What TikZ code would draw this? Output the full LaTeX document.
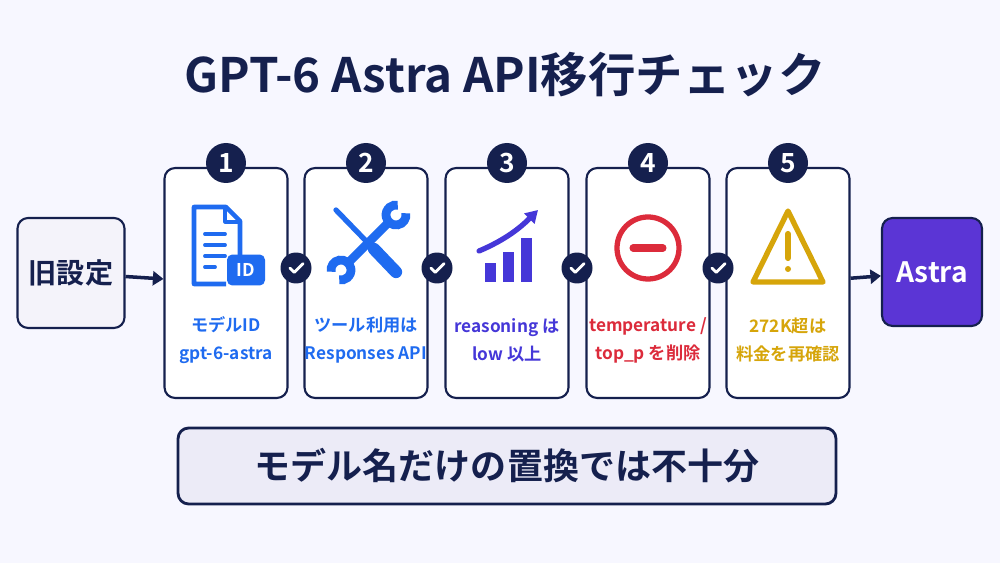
\documentclass[tikz,border=0pt]{standalone}
\usepackage{fontspec}
\setmainfont{Noto Sans CJK JP}[BoldFont={Noto Sans CJK JP Bold}]
\usetikzlibrary{positioning,arrows.meta}
\definecolor{navy}{HTML}{15204E}
\definecolor{idblue}{HTML}{1F6BF0}
\definecolor{indigo}{HTML}{4537D8}
\definecolor{alert}{HTML}{DC2B3B}
\definecolor{gold}{HTML}{D6A50A}
\definecolor{astra}{HTML}{5B35D5}
\definecolor{lav}{HTML}{ECEBF7}
\tikzset{
  card/.style={draw=navy, line width=1.2pt, rounded corners=6pt, fill=white, minimum width=2.46cm, minimum height=4.6cm},
  badge/.style={circle, fill=navy, text=white, minimum size=0.8cm, inner sep=0pt, font=\bfseries\fontsize{15}{15}\selectfont},
  check/.style={circle, fill=navy, minimum size=0.62cm, inner sep=0pt},
  label/.style={align=center, font=\bfseries\fontsize{9.8}{16}\selectfont},
  flow/.style={-{Triangle[length=6pt,width=8pt]}, line width=2pt, navy}
}
\begin{document}
\begin{tikzpicture}[x=0.02cm, y=-0.02cm]
  \fill[white!97!blue] (0,0) rectangle (1000,563);
  \useasboundingbox (0,0) rectangle (1000,563);

  % Title
  \node[navy, font=\bfseries\fontsize{27}{27}\selectfont] (title) at (505,75) {GPT-6 Astra API移行チェック};

  % Start and goal
  \node[draw=navy, line width=1.2pt, rounded corners=6pt, fill=lav!60, minimum width=2.14cm, minimum height=2.2cm,
        text=navy, font=\bfseries\fontsize{16}{16}\selectfont] (old) at (71,273) {旧設定};
  \node[draw=navy, line width=1.2pt, rounded corners=6pt, fill=astra, minimum width=2cm, minimum height=2.16cm,
        text=white, font=\bfseries\fontsize{16}{16}\selectfont] (goal) at (932,272) {Astra};

  % Cards
  \foreach \i/\x in {1/226,2/366,3/507,4/648,5/788}{
    \node[card] (card\i) at (\x,283) {};
    \node[badge] (badge\i) at (\x,163) {\i};
  }
  \foreach \i/\x in {1/296,2/437,3/577,4/718}{
    \node[check] (check\i) at (\x,268) {};
    \draw[white, line width=1.6pt, line cap=round, line join=round]
      ([xshift=-3.5pt]check\i.center) -- ++(2.5pt,-2.5pt) -- ++(5pt,5pt);
  }
  \draw[flow] (old) -- (card1);
  \draw[flow] (card5) -- (goal);

  % Card 1: document with ID
  \draw[idblue, line width=2.6pt, line join=round] (226,284) -- (194,284) -- (194,207) -- (226,207) -- (240,221) -- (240,255);
  \draw[idblue, line width=1.8pt, line join=round] (225,207) -- (225,222) -- (240,222);
  \foreach \yy in {234,245,256} \draw[idblue, line width=2.2pt, line cap=round] (205,\yy) -- (225,\yy);
  \draw[idblue, line width=2.2pt, line cap=round] (205,267) -- (215,267);
  \node[fill=idblue, rounded corners=3pt, text=white, minimum width=0.76cm, minimum height=0.62cm, inner sep=0pt,
        font=\bfseries\fontsize{10}{10}\selectfont] (idtag) at (246,270) {ID};
  \node[label, idblue] (text1) at (226,340) {モデルID\\gpt-6-astra};

  % Card 2: tools
  \draw[idblue, line width=3pt, line cap=round] (336,210) -- (368,243);
  \draw[idblue, line width=7pt, line cap=round] (374,249) -- (396,272);
  \draw[idblue, line width=5pt] (349,262) -- (388,223);
  \draw[idblue, line width=5pt] ([shift={(-10:10)}]396,215) arc (-10:280:10);
  \draw[idblue, line width=5pt] ([shift={(170:10)}]341,270) arc (170:460:10);
  \node[label, idblue] (text2) at (366,340) {ツール利用は\\Responses API};

  % Card 3: chart
  \fill[indigo] (485,263) rectangle (496,282);
  \fill[indigo] (503,252) rectangle (514,282);
  \fill[indigo] (521,238) rectangle (532,282);
  \draw[indigo, line width=3pt, line cap=round, -{Triangle[length=7pt,width=8pt]}] (479,251) .. controls (505,240) and (520,228) .. (538,210);
  \node[label, indigo] (text3) at (507,340) {reasoning は\\low 以上};

  % Card 4: remove
  \draw[alert, line width=3pt] (648,248) circle (31);
  \draw[alert, line width=4pt, line cap=round] (633,248) -- (663,248);
  \node[label, alert] (text4) at (648,340) {temperature /\\top\_p を削除};

  % Card 5: warning
  \draw[gold, line width=3pt, line join=round] (788,211) -- (823,282) -- (753,282) -- cycle;
  \draw[gold, line width=3.5pt, line cap=round] (788,234) -- (788,258);
  \fill[gold] (788,269) circle (3);
  \node[label, gold] (text5) at (788,340) {272K超は\\料金を再確認};

  % Note
  \node[draw=navy, line width=1.6pt, rounded corners=6pt, fill=lav, minimum width=13.16cm, minimum height=1.52cm,
        text=navy, font=\bfseries\fontsize{20.5}{20.5}\selectfont] (note) at (507,466) {モデル名だけの置換では不十分};
\end{tikzpicture}
\end{document}
